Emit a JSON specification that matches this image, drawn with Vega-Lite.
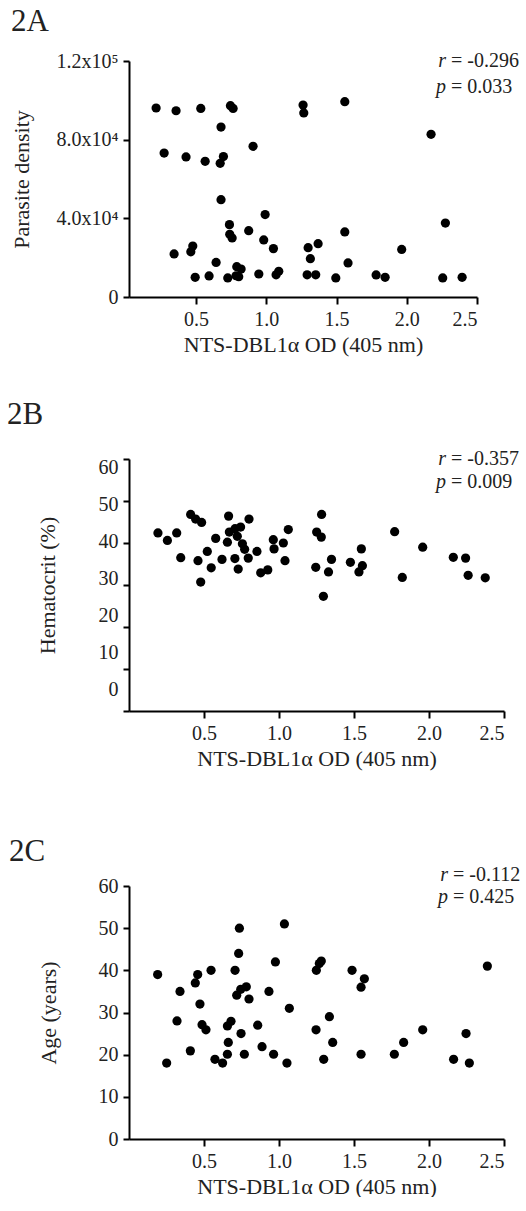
{
  "$schema": "https://vega.github.io/schema/vega-lite/v6.json",
  "background": "white",
  "padding": {"left": 7, "top": 6, "right": 0, "bottom": 0},
  "spacing": 44,
  "datasets": {
    "a": [
      {"od": 0.216, "value": 96100}, {"od": 0.358, "value": 94700}, {"od": 0.534, "value": 95900},
      {"od": 0.745, "value": 97300}, {"od": 0.764, "value": 95900}, {"od": 0.678, "value": 86400},
      {"od": 1.262, "value": 97600}, {"od": 1.267, "value": 93600}, {"od": 1.559, "value": 99300},
      {"od": 2.173, "value": 82700}, {"od": 0.273, "value": 73200}, {"od": 0.429, "value": 71200},
      {"od": 0.565, "value": 69000}, {"od": 0.695, "value": 71400}, {"od": 0.672, "value": 68000},
      {"od": 0.906, "value": 76600}, {"od": 0.678, "value": 49500}, {"od": 0.992, "value": 41900},
      {"od": 0.738, "value": 36800}, {"od": 0.740, "value": 31900}, {"od": 0.757, "value": 30000},
      {"od": 0.875, "value": 33700}, {"od": 0.982, "value": 29000}, {"od": 1.051, "value": 24600},
      {"od": 1.298, "value": 25100}, {"od": 1.369, "value": 27100}, {"od": 1.314, "value": 19500},
      {"od": 1.559, "value": 33100}, {"od": 1.582, "value": 17300}, {"od": 1.964, "value": 24200},
      {"od": 2.275, "value": 37600}, {"od": 0.344, "value": 21900}, {"od": 0.477, "value": 25900},
      {"od": 0.463, "value": 23000}, {"od": 0.643, "value": 17600}, {"od": 0.494, "value": 10000},
      {"od": 0.593, "value": 10700}, {"od": 0.726, "value": 9700}, {"od": 0.790, "value": 15400},
      {"od": 0.821, "value": 14200}, {"od": 0.804, "value": 10300}, {"od": 0.785, "value": 10800},
      {"od": 0.947, "value": 11700}, {"od": 1.070, "value": 11300}, {"od": 1.089, "value": 13100},
      {"od": 1.291, "value": 11300}, {"od": 1.352, "value": 11300}, {"od": 1.495, "value": 9700},
      {"od": 1.782, "value": 11200}, {"od": 1.846, "value": 10000}, {"od": 2.256, "value": 9700},
      {"od": 2.394, "value": 10000}
    ],
    "b": [
      {"od": 0.193, "value": 42.4}, {"od": 0.256, "value": 40.6}, {"od": 0.318, "value": 42.4},
      {"od": 0.411, "value": 46.8}, {"od": 0.444, "value": 45.7}, {"od": 0.484, "value": 44.9},
      {"od": 0.345, "value": 36.5}, {"od": 0.460, "value": 35.8}, {"od": 0.522, "value": 38.0},
      {"od": 0.548, "value": 34.1}, {"od": 0.578, "value": 41.1}, {"od": 0.620, "value": 36.1},
      {"od": 0.664, "value": 46.4}, {"od": 0.669, "value": 42.6}, {"od": 0.656, "value": 40.2},
      {"od": 0.707, "value": 43.4}, {"od": 0.744, "value": 43.8}, {"od": 0.722, "value": 41.6},
      {"od": 0.756, "value": 39.8}, {"od": 0.771, "value": 38.5}, {"od": 0.706, "value": 36.3},
      {"od": 0.728, "value": 33.8}, {"od": 0.800, "value": 45.7}, {"od": 0.795, "value": 36.4},
      {"od": 0.853, "value": 38.0}, {"od": 0.878, "value": 32.9}, {"od": 0.925, "value": 33.6},
      {"od": 0.962, "value": 40.8}, {"od": 0.967, "value": 38.6}, {"od": 1.029, "value": 40.0},
      {"od": 1.062, "value": 43.2}, {"od": 1.040, "value": 35.8}, {"od": 1.284, "value": 46.8},
      {"od": 1.251, "value": 42.6}, {"od": 1.282, "value": 41.4}, {"od": 1.245, "value": 34.2},
      {"od": 1.330, "value": 33.1}, {"od": 1.350, "value": 36.1}, {"od": 1.476, "value": 35.4},
      {"od": 1.549, "value": 38.6}, {"od": 1.556, "value": 34.6}, {"od": 1.533, "value": 33.1},
      {"od": 1.771, "value": 42.7}, {"od": 1.958, "value": 39.0}, {"od": 1.822, "value": 31.8},
      {"od": 2.162, "value": 36.6}, {"od": 2.244, "value": 36.4}, {"od": 2.261, "value": 32.3},
      {"od": 2.375, "value": 31.7}, {"od": 0.478, "value": 30.7}, {"od": 1.296, "value": 27.3}
    ],
    "c": [
      {"od": 0.191, "value": 39}, {"od": 0.340, "value": 35}, {"od": 0.458, "value": 39},
      {"od": 0.442, "value": 37}, {"od": 0.547, "value": 40}, {"od": 0.473, "value": 32},
      {"od": 0.736, "value": 50}, {"od": 0.731, "value": 44}, {"od": 0.707, "value": 40},
      {"od": 1.036, "value": 51}, {"od": 0.976, "value": 42}, {"od": 1.269, "value": 41.6},
      {"od": 1.282, "value": 42.2}, {"od": 1.249, "value": 40}, {"od": 1.487, "value": 40},
      {"od": 1.569, "value": 38}, {"od": 1.547, "value": 36}, {"od": 2.389, "value": 41},
      {"od": 0.718, "value": 34.1}, {"od": 0.745, "value": 35.5}, {"od": 0.782, "value": 36.1},
      {"od": 0.800, "value": 33.2}, {"od": 0.933, "value": 35}, {"od": 1.069, "value": 31},
      {"od": 0.320, "value": 28}, {"od": 0.487, "value": 27.1}, {"od": 0.513, "value": 25.9},
      {"od": 0.409, "value": 20.9}, {"od": 0.251, "value": 18}, {"od": 0.573, "value": 18.9},
      {"od": 0.624, "value": 18}, {"od": 0.656, "value": 20.1}, {"od": 0.662, "value": 22.9},
      {"od": 0.656, "value": 26.8}, {"od": 0.680, "value": 27.9}, {"od": 0.747, "value": 25},
      {"od": 0.769, "value": 20.1}, {"od": 0.858, "value": 27}, {"od": 0.887, "value": 21.9},
      {"od": 0.964, "value": 20.1}, {"od": 1.053, "value": 18}, {"od": 1.247, "value": 25.9},
      {"od": 1.336, "value": 29}, {"od": 1.358, "value": 22.9}, {"od": 1.298, "value": 18.9},
      {"od": 1.547, "value": 20.1}, {"od": 1.769, "value": 20.1}, {"od": 1.831, "value": 22.9},
      {"od": 1.958, "value": 25.9}, {"od": 2.164, "value": 18.9}, {"od": 2.247, "value": 25},
      {"od": 2.269, "value": 18}
    ],
    "stats": [
      {"panel": "2A", "rlab": "= -0.296", "plab": "= 0.033"},
      {"panel": "2B", "rlab": "= -0.357", "plab": "= 0.009"},
      {"panel": "2C", "rlab": "= -0.112", "plab": "= 0.425"}
    ]
  },
  "config": {
    "font": "Liberation Serif",
    "view": {"stroke": null},
    "axis": {
      "grid": false, "domainColor": "black", "domainWidth": 2, "tickColor": "black",
      "tickWidth": 2, "tickSize": 6, "labelFont": "Liberation Serif", "labelFontSize": 20,
      "labelColor": "#222", "titleFont": "Liberation Serif", "titleFontSize": 22,
      "titleFontWeight": "normal", "titleColor": "#222", "labelPadding": 5, "labelOverlap": false
    },
    "title": {"font": "Liberation Serif", "fontSize": 31, "fontWeight": "normal", "anchor": "start", "color": "#222", "frame": "bounds"},
    "text": {"font": "Liberation Serif", "fontSize": 20, "color": "#222", "baseline": "middle"},
    "point": {"filled": true, "color": "black", "size": 85, "opacity": 1}
  },
  "vconcat": [
    {
      "width": 348, "height": 236,
      "title": {"text": "2A", "offset": 13, "dx": 1},
      "layer": [
        {
          "data": {"name": "a"},
          "mark": {"type": "point"},
          "encoding": {
            "x": {"field": "od", "type": "quantitative", "scale": {"domain": [0.023, 2.5], "nice": false, "zero": false},
                  "axis": {"values": [0.5, 1, 1.5, 2, 2.5], "format": ".1f", "title": "NTS-DBL1α OD (405 nm)", "tickSize": 7, "titlePadding": 5}},
            "y": {"field": "value", "type": "quantitative", "scale": {"domain": [0, 120000], "nice": false},
                  "axis": {"values": [0, 20000, 40000, 60000, 80000, 100000, 120000], "title": "Parasite density", "titlePadding": 23,
                           "labelExpr": "datum.value == 0 ? '0' : datum.value >= 100000 ? format(datum.value / 100000, '.1f') + 'x10⁵' : format(datum.value / 10000, '.1f') + 'x10⁴'"}}
          }
        },
        {
          "data": {"name": "stats"}, "transform": [{"filter": "datum.panel == '2A'"}],
          "mark": {"type": "text", "align": "left", "dx": 5},
          "encoding": {"x": {"datum": 2.28, "type": "quantitative"}, "y": {"datum": 120000, "type": "quantitative"}, "text": {"field": "rlab"}}
        },
        {
          "data": {"name": "stats"}, "transform": [{"filter": "datum.panel == '2A'"}],
          "mark": {"type": "text", "align": "right", "fontStyle": "italic"},
          "encoding": {"x": {"datum": 2.28, "type": "quantitative"}, "y": {"datum": 120000, "type": "quantitative"}, "text": {"value": "r"}}
        },
        {
          "data": {"name": "stats"}, "transform": [{"filter": "datum.panel == '2A'"}],
          "mark": {"type": "text", "align": "left", "dx": 5},
          "encoding": {"x": {"datum": 2.28, "type": "quantitative"}, "y": {"datum": 107000, "type": "quantitative"}, "text": {"field": "plab"}}
        },
        {
          "data": {"name": "stats"}, "transform": [{"filter": "datum.panel == '2A'"}],
          "mark": {"type": "text", "align": "right", "fontStyle": "italic"},
          "encoding": {"x": {"datum": 2.28, "type": "quantitative"}, "y": {"datum": 107000, "type": "quantitative"}, "text": {"value": "p"}}
        }
      ]
    },
    {
      "width": 375, "height": 252,
      "title": {"text": "2B", "offset": 18, "dx": -29},
      "resolve": {"scale": {"y": "independent"}, "axis": {"y": "independent"}},
      "layer": [
        {
          "layer": [
            {
              "data": {"name": "b"},
              "mark": {"type": "point"},
              "encoding": {
                "x": {"field": "od", "type": "quantitative", "scale": {"domain": [0, 2.5], "nice": false},
                      "axis": {"values": [0.5, 1, 1.5, 2, 2.5], "format": ".1f", "title": ["NTS-DBL1α OD (405 nm)", ""], "titleLineHeight": 23, "tickSize": 7, "titlePadding": 5}},
                "y": {"field": "value", "type": "quantitative", "scale": {"domain": [0, 60], "nice": false},
                      "axis": {"values": [0, 10, 20, 30, 40, 50, 60], "labels": false, "title": "Hematocrit (%)", "titlePadding": 63, "orient": "left"}}
              }
            },
            {
              "data": {"name": "stats"}, "transform": [{"filter": "datum.panel == '2B'"}],
              "mark": {"type": "text", "align": "left", "dx": 5},
              "encoding": {"x": {"datum": 2.113, "type": "quantitative"}, "y": {"datum": 60, "type": "quantitative"}, "text": {"field": "rlab"}}
            },
            {
              "data": {"name": "stats"}, "transform": [{"filter": "datum.panel == '2B'"}],
              "mark": {"type": "text", "align": "right", "fontStyle": "italic"},
              "encoding": {"x": {"datum": 2.113, "type": "quantitative"}, "y": {"datum": 60, "type": "quantitative"}, "text": {"value": "r"}}
            },
            {
              "data": {"name": "stats"}, "transform": [{"filter": "datum.panel == '2B'"}],
              "mark": {"type": "text", "align": "left", "dx": 5},
              "encoding": {"x": {"datum": 2.113, "type": "quantitative"}, "y": {"datum": 54.5, "type": "quantitative"}, "text": {"field": "plab"}}
            },
            {
              "data": {"name": "stats"}, "transform": [{"filter": "datum.panel == '2B'"}],
              "mark": {"type": "text", "align": "right", "fontStyle": "italic"},
              "encoding": {"x": {"datum": 2.113, "type": "quantitative"}, "y": {"datum": 54.5, "type": "quantitative"}, "text": {"value": "p"}}
            }
          ]
        },
        {
          "data": {"name": "stats"}, "transform": [{"filter": "datum.panel == '2B'"}],
          "mark": {"type": "text", "opacity": 0, "text": ""},
          "encoding": {
            "y": {"datum": 0, "type": "quantitative", "scale": {"domain": [-5.95, 62.24], "nice": false, "zero": false},
                  "axis": {"values": [0, 10, 20, 30, 40, 50, 60], "orient": "right", "offset": -375, "ticks": false, "domain": false,
                           "labelAlign": "right", "labelPadding": -11, "title": null}}
          }
        }
      ]
    },
    {
      "width": 375, "height": 253,
      "title": {"text": "2C", "offset": -3, "dx": -28},
      "layer": [
        {
          "data": {"name": "c"},
          "mark": {"type": "point"},
          "encoding": {
            "x": {"field": "od", "type": "quantitative", "scale": {"domain": [0, 2.5], "nice": false},
                  "axis": {"values": [0.5, 1, 1.5, 2, 2.5], "format": ".1f", "title": "NTS-DBL1α OD (405 nm)", "tickSize": 7, "titlePadding": 5}},
            "y": {"field": "value", "type": "quantitative", "scale": {"domain": [0, 60], "nice": false},
                  "axis": {"values": [0, 10, 20, 30, 40, 50, 60], "title": "Age (years)", "titlePadding": 38}}
          }
        },
        {
          "data": {"name": "stats"}, "transform": [{"filter": "datum.panel == '2C'"}],
          "mark": {"type": "text", "align": "left", "dx": 5},
          "encoding": {"x": {"datum": 2.127, "type": "quantitative"}, "y": {"datum": 62.6, "type": "quantitative"}, "text": {"field": "rlab"}}
        },
        {
          "data": {"name": "stats"}, "transform": [{"filter": "datum.panel == '2C'"}],
          "mark": {"type": "text", "align": "right", "fontStyle": "italic"},
          "encoding": {"x": {"datum": 2.127, "type": "quantitative"}, "y": {"datum": 62.6, "type": "quantitative"}, "text": {"value": "r"}}
        },
        {
          "data": {"name": "stats"}, "transform": [{"filter": "datum.panel == '2C'"}],
          "mark": {"type": "text", "align": "left", "dx": 5},
          "encoding": {"x": {"datum": 2.127, "type": "quantitative"}, "y": {"datum": 57.5, "type": "quantitative"}, "text": {"field": "plab"}}
        },
        {
          "data": {"name": "stats"}, "transform": [{"filter": "datum.panel == '2C'"}],
          "mark": {"type": "text", "align": "right", "fontStyle": "italic"},
          "encoding": {"x": {"datum": 2.127, "type": "quantitative"}, "y": {"datum": 57.5, "type": "quantitative"}, "text": {"value": "p"}}
        }
      ]
    }
  ]
}
